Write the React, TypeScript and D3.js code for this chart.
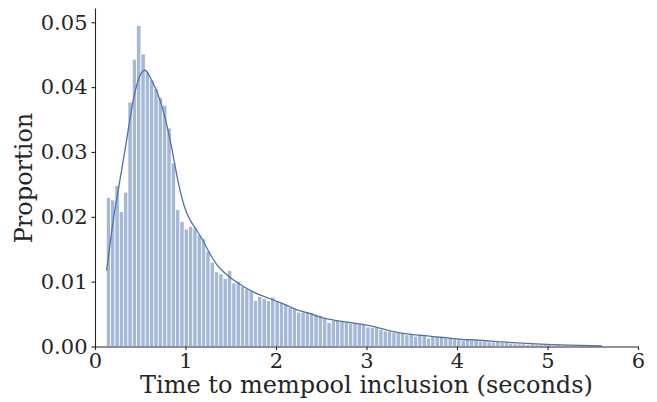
import React, { useEffect, useRef } from 'react';
import * as d3 from 'd3';

// histogram (stat = proportion), equal-width bins starting at binStart
const binStart = 0.125;
const binWidth = 0.0478;
const proportions = [
  0.0230, 0.0226, 0.0248, 0.0208, 0.0238, 0.0377, 0.0443, 0.0495, 0.0451, 0.0423,
  0.0411, 0.0398, 0.0384, 0.0372, 0.0337, 0.0283, 0.0211,
  0.0193, 0.0181, 0.0185, 0.0183, 0.0172, 0.0166, 0.0147, 0.0130, 0.0115, 0.0112,
  0.0105, 0.0117, 0.0098, 0.0100, 0.0093, 0.0089, 0.0086, 0.0071, 0.0077, 0.0074,
  0.0071, 0.0076, 0.0071,
  0.0068, 0.0065, 0.0060, 0.0058, 0.0053, 0.0053, 0.0054, 0.0052, 0.0050, 0.0048,
  0.0045, 0.0037, 0.0040, 0.0040, 0.0040, 0.0038, 0.0035, 0.0036, 0.0035, 0.0034,
  0.0030, 0.0029, 0.0029,
  0.0026, 0.0024, 0.0023, 0.0022, 0.0021, 0.0020, 0.0018, 0.0020, 0.0016, 0.0019,
  0.0018, 0.0013, 0.0016, 0.0015, 0.0014, 0.0013, 0.0014, 0.0012, 0.0012, 0.0010,
  0.0011, 0.0009, 0.0009,
  0.0008, 0.0008, 0.0007, 0.0007, 0.0007, 0.0006, 0.0006, 0.0005, 0.0004, 0.0004,
  0.0004, 0.0003, 0.0004, 0.0003, 0.0003, 0.0003, 0.0003, 0.0002, 0.0003, 0.0002,
  0.0002, 0.0002, 0.0001, 0.0001, 0.0001, 0.0001, 0.00005, 0.00005,
];

// kde curve
const kdeX = [
  0.129, 0.202, 0.276, 0.349, 0.423, 0.478, 0.551, 0.625, 0.698, 0.772,
  0.845, 0.919, 0.992, 1.047, 1.121, 1.194, 1.27, 1.342, 1.488, 1.635,
  1.782, 1.929, 2.076, 2.224, 2.37, 2.517, 2.665, 2.811, 2.958, 3.106,
  3.179, 3.326, 3.473, 3.62, 3.767, 3.914, 4.06, 4.208, 4.5, 4.87, 5.24, 5.6,
];
const kdeY = [
  0.0117, 0.0195, 0.0257, 0.0318, 0.0380, 0.0411, 0.0426, 0.0411, 0.0388, 0.0354,
  0.0308, 0.0254, 0.0214, 0.0196, 0.0180, 0.0163, 0.0143, 0.0127, 0.0107, 0.0093,
  0.0082, 0.0074, 0.0066, 0.0057, 0.0051, 0.0044, 0.0040, 0.0037, 0.0034, 0.0030,
  0.0027, 0.0022, 0.0019, 0.0017, 0.0015, 0.0013, 0.0011, 0.0010, 0.0007, 0.0004,
  0.0002, 0.0001,
];

const xTicks = [0, 1, 2, 3, 4, 5, 6];
const yTicks = [0, 0.01, 0.02, 0.03, 0.04, 0.05];

const width = 657;
const height = 402;
const blue = '#4C72B0';
const ink = '#262626';
const font = '"DejaVu Serif", serif';

const drawChart = (node: SVGSVGElement) => {
  const svg = d3.select(node);
  svg.selectAll('*').remove();

  const x = d3.scaleLinear().domain([0, 6]).range([95, 638]);
  const y = d3.scaleLinear().domain([0, 0.0522]).range([346.5, 8]);

  svg.append('g')
    .selectAll('rect')
    .data(proportions)
    .enter()
    .append('rect')
    .attr('x', (d, i) => x(binStart + i * binWidth))
    .attr('y', d => y(d))
    .attr('width', x(binWidth) - x(0))
    .attr('height', d => y(0) - y(d))
    .attr('fill', blue)
    .attr('fill-opacity', 0.5)
    .attr('stroke', 'white')
    .attr('stroke-width', 0.75);

  const line = d3.line<number>()
    .x((d, i) => x(kdeX[i]))
    .y(d => y(d))
    .curve(d3.curveMonotoneX);

  svg.append('path')
    .datum(kdeY)
    .attr('d', line)
    .attr('fill', 'none')
    .attr('stroke', blue)
    .attr('stroke-width', 1.3);

  const xAxis = svg.append('g')
    .attr('transform', `translate(0,${y(0)})`)
    .call(d3.axisBottom(x).tickValues(xTicks).tickFormat(d3.format('d')).tickSize(3.5).tickSizeOuter(0).tickPadding(3.5));

  const yAxis = svg.append('g')
    .attr('transform', `translate(${x(0)},0)`)
    .call(d3.axisLeft(y).tickValues(yTicks).tickFormat(d3.format('.2f')).tickSize(3.5).tickSizeOuter(0).tickPadding(4));

  [xAxis, yAxis].forEach(g => {
    g.selectAll('path, line').attr('stroke', ink).attr('stroke-width', 1.1);
    g.selectAll('text').attr('fill', ink).style('font-family', font).style('font-size', '21px');
  });

  svg.append('text')
    .attr('x', (x(0) + x(6)) / 2)
    .attr('y', 392.5)
    .attr('text-anchor', 'middle')
    .attr('fill', ink)
    .style('font-family', font)
    .style('font-size', '24px')
    .text('Time to mempool inclusion (seconds)');

  svg.append('text')
    .attr('transform', `translate(31.5,178) rotate(-90)`)
    .attr('text-anchor', 'middle')
    .attr('fill', ink)
    .style('font-family', font)
    .style('font-size', '24px')
    .text('Proportion');
};

export default function App() {
  const ref = useRef<SVGSVGElement>(null);

  useEffect(() => {
    if (ref.current) drawChart(ref.current);
  }, []);

  return (
    <svg
      ref={ref}
      width={width}
      height={height}
      style={{ position: 'absolute', left: 0, top: 0, background: 'white' }}
    />
  );
}
